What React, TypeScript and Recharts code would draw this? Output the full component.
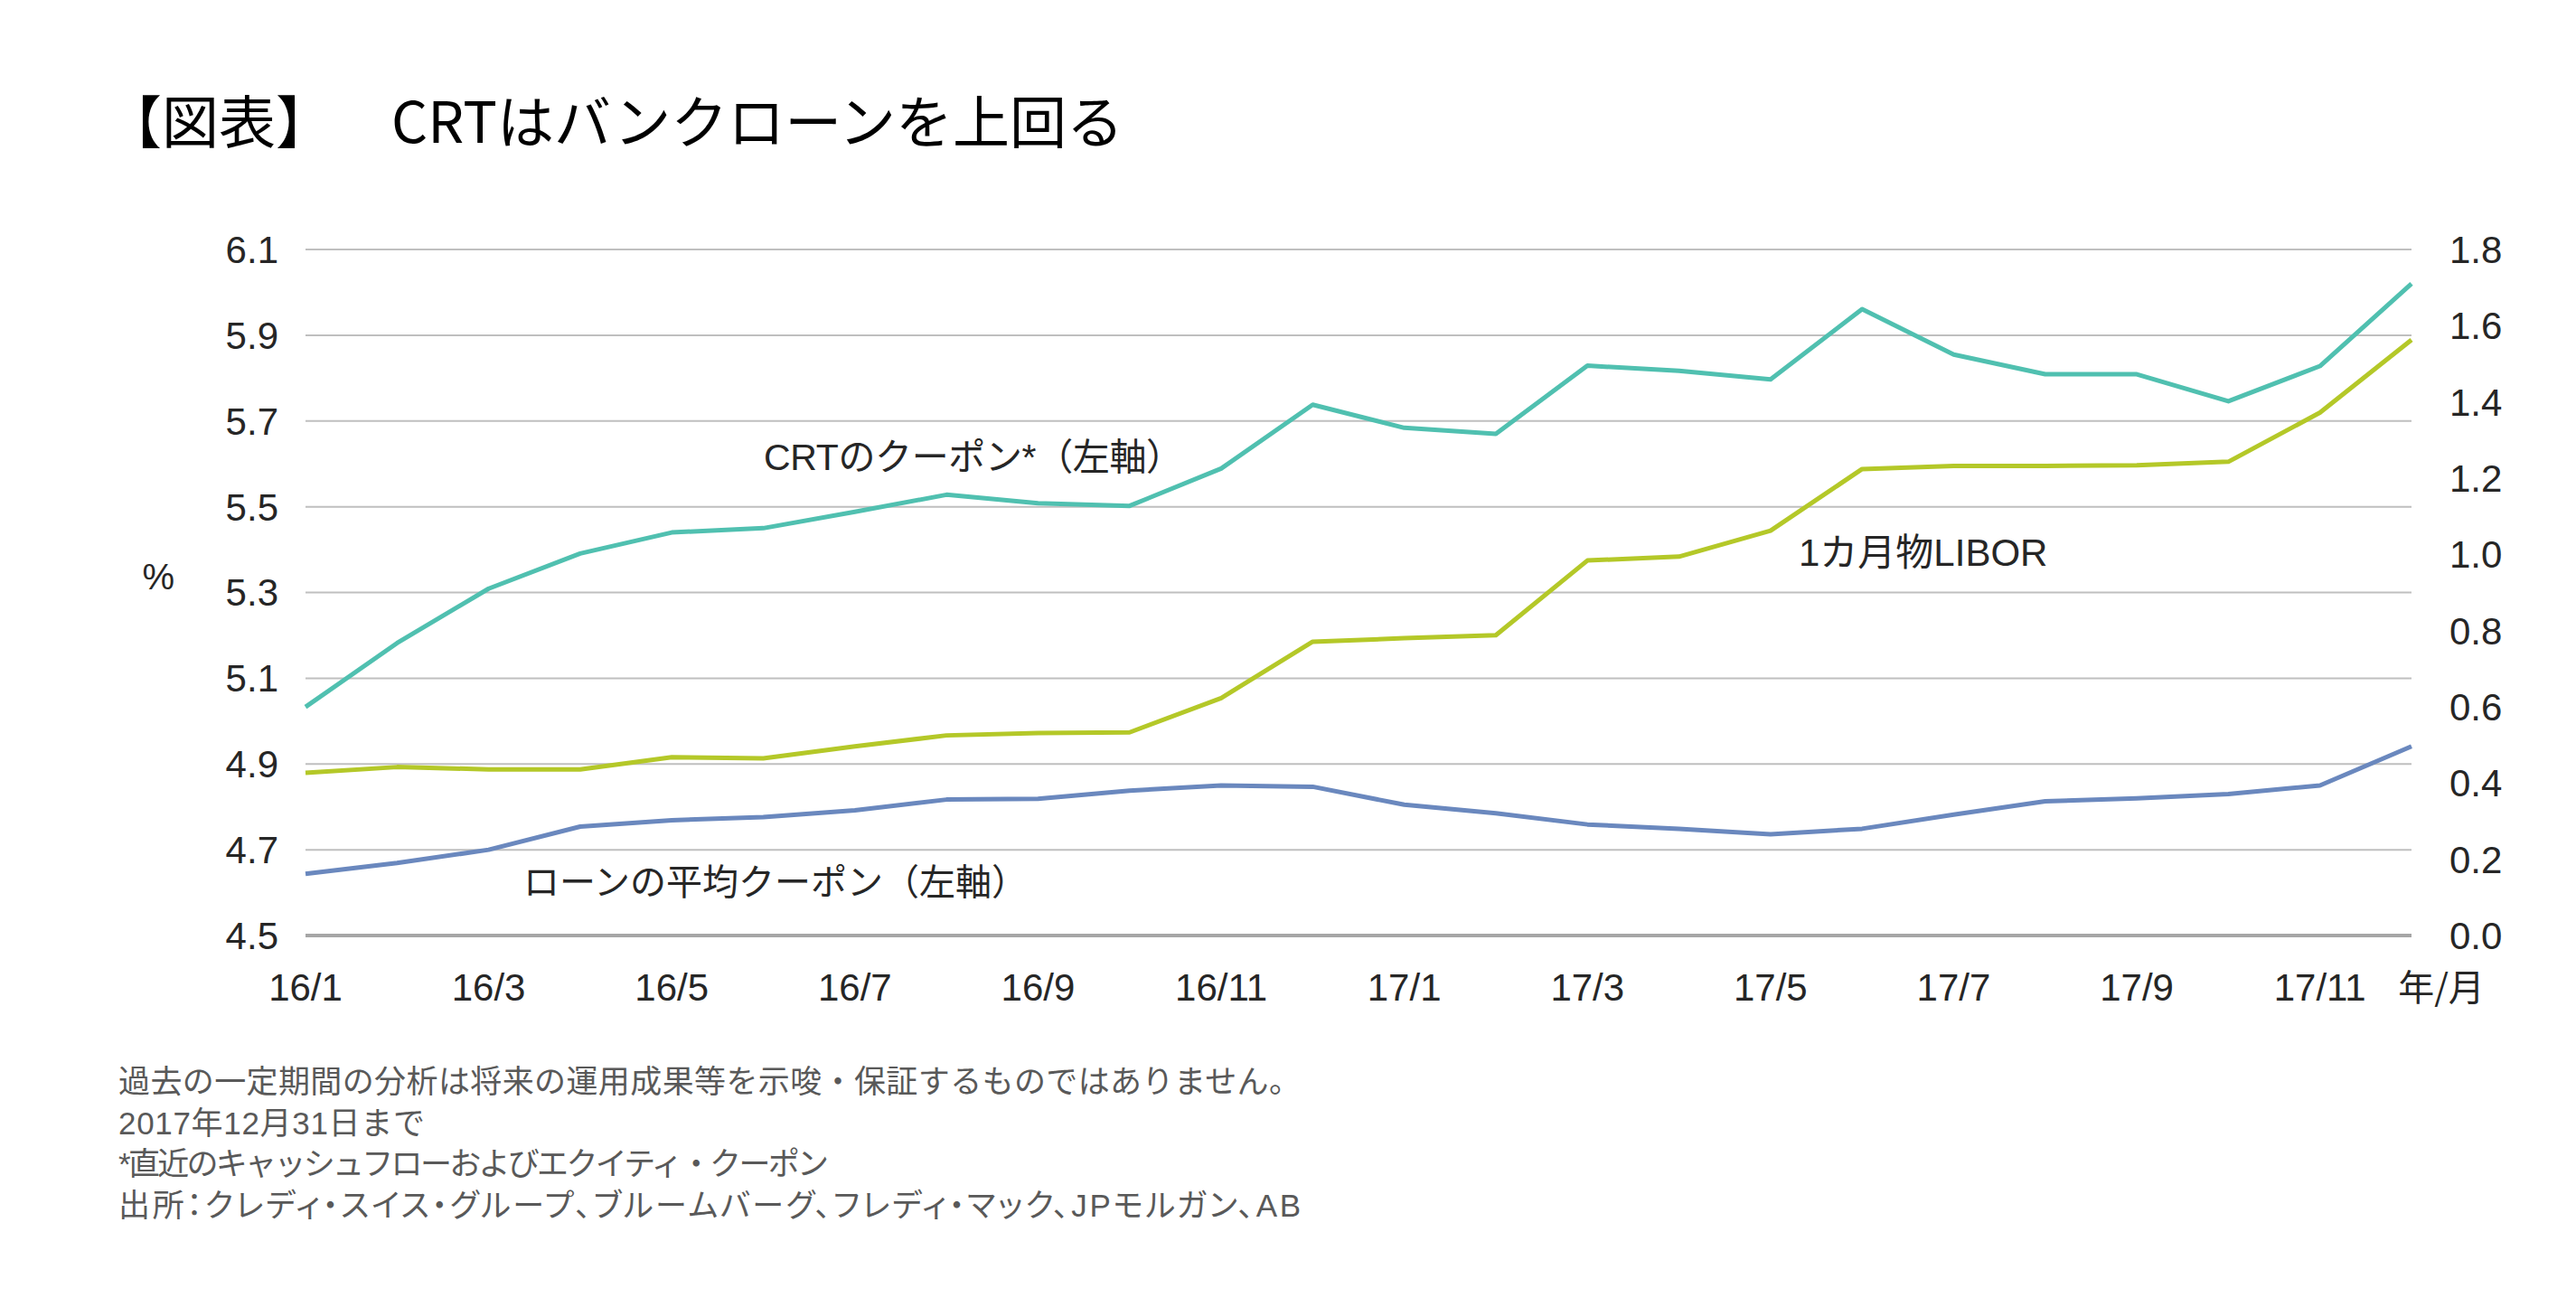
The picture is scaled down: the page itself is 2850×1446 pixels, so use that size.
import React from 'react';
import { LineChart, Line, XAxis, YAxis, CartesianGrid } from 'recharts';

const months = [
  '16/1', '16/2', '16/3', '16/4', '16/5', '16/6', '16/7', '16/8', '16/9', '16/10', '16/11', '16/12',
  '17/1', '17/2', '17/3', '17/4', '17/5', '17/6', '17/7', '17/8', '17/9', '17/10', '17/11', '17/12',
];

// CRT coupon (left axis, %)
const crtCoupon = [
  5.033, 5.182, 5.309, 5.391, 5.44, 5.45, 5.488, 5.528, 5.508, 5.502, 5.589, 5.738,
  5.684, 5.67, 5.829, 5.817, 5.797, 5.961, 5.855, 5.809, 5.809, 5.746, 5.828, 6.02,
];

// average bank loan coupon (left axis, %)
const loanCoupon = [
  4.644, 4.669, 4.7, 4.754, 4.769, 4.776, 4.792, 4.817, 4.819, 4.838, 4.85, 4.847,
  4.805, 4.785, 4.759, 4.749, 4.736, 4.749, 4.782, 4.813, 4.82, 4.83, 4.85, 4.941,
];

// 1M LIBOR (right axis, %)
const libor1m = [
  0.427, 0.442, 0.436, 0.436, 0.468, 0.465, 0.496, 0.525, 0.531, 0.533, 0.623, 0.771,
  0.78, 0.788, 0.984, 0.994, 1.062, 1.224, 1.232, 1.232, 1.234, 1.243, 1.372, 1.563,
];

const leftTicks = [4.5, 4.7, 4.9, 5.1, 5.3, 5.5, 5.7, 5.9, 6.1];
const rightTicks = [0, 0.2, 0.4, 0.6, 0.8, 1.0, 1.2, 1.4, 1.6, 1.8];

const footnotes = [
  '過去の一定期間の分析は将来の運用成果等を示唆・保証するものではありません。',
  '2017年12月31日まで',
  '*直近のキャッシュフローおよびエクイティ・クーポン',
  '出所：クレディ・スイス・グループ、ブルームバーグ、フレディ・マック、JPモルガン、AB',
];
// line widths in the original layout
const footnoteWidths = [1308, 339, 786, 1308];

const data = months.map((m, i) => ({
  month: m,
  crt: crtCoupon[i],
  loan: loanCoupon[i],
  libor: libor1m[i],
}));

const FONT = '"Liberation Sans", "Noto Sans CJK JP", sans-serif';
const JP = '"Noto Sans CJK JP", sans-serif';
const TEXT = '#262626';

const tickStyle = { fill: TEXT, fontSize: 42, fontFamily: FONT };

export default function App() {
  return (
    <div style={{ position: 'absolute', left: 0, top: 0, width: 2850, height: 1446, background: '#fff' }}>
      <LineChart
        width={2850}
        height={1446}
        data={data}
        margin={{ top: 276, right: 0, bottom: 351, left: 0 }}
      >
        <CartesianGrid yAxisId="left" vertical={false} stroke="#BFBFBF" strokeWidth={2} />
        <XAxis
          dataKey="month"
          interval={1}
          height={60}
          tickLine={false}
          tickSize={0}
          tickMargin={42}
          axisLine={{ stroke: '#A6A6A6', strokeWidth: 4 }}
          tick={tickStyle}
        />
        <YAxis
          yAxisId="left"
          domain={[4.5, 6.1]}
          ticks={leftTicks}
          width={338}
          axisLine={false}
          tickLine={false}
          tickSize={0}
          tickMargin={30}
          tick={tickStyle}
          tickFormatter={(v: number) => v.toFixed(1)}
        />
        <YAxis
          yAxisId="right"
          orientation="right"
          domain={[0, 1.8]}
          ticks={rightTicks}
          width={182}
          axisLine={false}
          tickLine={false}
          tickSize={0}
          tickMargin={42}
          tick={tickStyle}
          tickFormatter={(v: number) => v.toFixed(1)}
        />
        <Line
          yAxisId="left"
          type="linear"
          dataKey="crt"
          stroke="#50C0B0"
          strokeWidth={5}
          strokeLinejoin="round"
          dot={false}
          isAnimationActive={false}
        />
        <Line
          yAxisId="right"
          type="linear"
          dataKey="libor"
          stroke="#B4C828"
          strokeWidth={5}
          strokeLinejoin="round"
          dot={false}
          isAnimationActive={false}
        />
        <Line
          yAxisId="left"
          type="linear"
          dataKey="loan"
          stroke="#6A88BE"
          strokeWidth={5}
          strokeLinejoin="round"
          dot={false}
          isAnimationActive={false}
        />
      </LineChart>

      <svg
        width={2850}
        height={1446}
        style={{ position: 'absolute', left: 0, top: 0, pointerEvents: 'none' }}
      >
        <text x={116} y={158} fontSize={63} fontFamily={JP} fill="#000">【図表】</text>
        <text x={433} y={158} fontSize={63} fontFamily={JP} fill="#000">CRTはバンクローンを上回る</text>

        <text x={193} y={652} fontSize={40} fontFamily={FONT} fill={TEXT} textAnchor="end">%</text>
        <text x={2701} y={1107} fontSize={40} fontFamily={JP} fill={TEXT} textAnchor="middle">年/月</text>

        <text x={845} y={520} fontSize={41} fontFamily={FONT} fill={TEXT} textLength={464} lengthAdjust="spacing">
          CRTのクーポン*（左軸）
        </text>
        <text x={1990} y={626} fontSize={42} fontFamily={FONT} fill={TEXT}>1カ月物LIBOR</text>
        <text x={579} y={990} fontSize={40} fontFamily={FONT} fill={TEXT}>ローンの平均クーポン（左軸）</text>

        {footnotes.map((line, i) => (
          <text
            key={i}
            x={131}
            y={1209 + i * 45.5}
            fontSize={35}
            fontFamily={FONT}
            fill="#595959"
            textLength={footnoteWidths[i]}
            lengthAdjust="spacing"
            style={i === 3 ? { fontFeatureSettings: '"palt"' } : undefined}
          >
            {line}
          </text>
        ))}
      </svg>
    </div>
  );
}
